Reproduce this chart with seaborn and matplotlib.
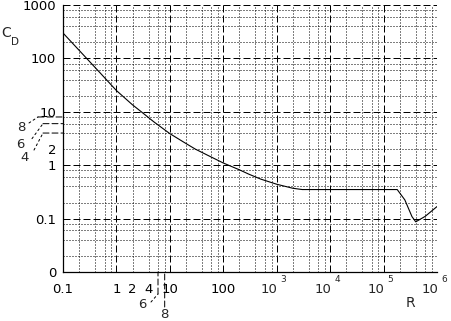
import numpy as np
import pandas as pd
import matplotlib
matplotlib.use("Agg")
import matplotlib.pyplot as plt
import seaborn as sns
from matplotlib.ticker import FixedLocator, FixedFormatter
from matplotlib.transforms import offset_copy

# ---- data ----
reynolds = [0.1, 0.2, 0.5, 1, 2, 3, 5, 10, 20, 30, 50, 100, 200, 300, 500,
            1000, 2000, 3000, 1e4, 1e5, 1.8e5, 2.5e5, 3.4e5, 4e5, 6e5, 1e6]
drag_coef = [299, 142, 53, 25, 13.5, 9.8, 6.5, 3.9, 2.55, 2.0, 1.55, 1.1, 0.82,
             0.68, 0.55, 0.44, 0.37, 0.35, 0.35, 0.35, 0.35, 0.224, 0.109, 0.087,
             0.11, 0.168]

x_major = [0.1, 1, 10, 100, 1e3, 1e4, 1e5, 1e6]
x_major_labels = ["0.1", "1", "10", "100", "", "", "", ""]
x_exponent_ticks = [1e3, 1e4, 1e5, 1e6]
x_exponent_labels = ["3", "4", "5", "6"]
y_major = [0.01, 0.1, 1, 10, 100, 1000]
y_major_labels = ["0", "0.1", "1", "10", "100", "1000"]
minor_subs = [2, 4, 6, 8]
x_decades = range(-1, 6)
y_decades = range(-2, 3)
x_minor_labelled = {2: "2", 4: "4"}
y_minor_labelled = {2: "2"}
y_leader_values = [8, 6, 4]
x_leader_values = [6, 8]

df = pd.DataFrame({"R": reynolds, "CD": drag_coef})

sns.set_style("white")
plt.rcParams["font.family"] = ["DejaVu Sans"]

W, H = 452, 321
fig = plt.figure(figsize=(W / 100, H / 100), dpi=100)
ax = fig.add_axes([63 / W, 1 - 272 / H, 374 / W, 267 / H])

sns.lineplot(data=df, x="R", y="CD", ax=ax, color="black", lw=0.8, sort=False)

ax.set_xscale("log")
ax.set_yscale("log")
ax.set_xlim(0.1, 1e6)
ax.set_ylim(0.01, 1000)

x_minor = [m * 10.0 ** d for d in x_decades for m in minor_subs]
y_minor = [m * 10.0 ** d for d in y_decades for m in minor_subs]


def minor_label(v, table):
    if 1 < v < 10 and abs(v - round(v)) < 1e-9:
        return table.get(int(round(v)), "")
    return ""


ax.xaxis.set_major_locator(FixedLocator(x_major))
ax.xaxis.set_major_formatter(FixedFormatter(x_major_labels))
ax.xaxis.set_minor_locator(FixedLocator(x_minor))
ax.xaxis.set_minor_formatter(FixedFormatter([minor_label(v, x_minor_labelled) for v in x_minor]))
ax.yaxis.set_major_locator(FixedLocator(y_major))
ax.yaxis.set_major_formatter(FixedFormatter(y_major_labels))
ax.yaxis.set_minor_locator(FixedLocator(y_minor))
ax.yaxis.set_minor_formatter(FixedFormatter([minor_label(v, y_minor_labelled) for v in y_minor]))

fs = 9.5
ax.tick_params(axis="both", which="both", length=0, labelsize=fs, colors="black")
ax.tick_params(axis="x", which="both", pad=8)
ax.tick_params(axis="y", which="both", pad=5)

ax.grid(which="major", color="black", lw=0.72, ls=(0, (7, 3)))
ax.grid(which="minor", color="black", lw=0.72, ls=(0, (1, 2)))
ax.set_axisbelow(True)

for s in ["top", "right"]:
    ax.spines[s].set_visible(False)
for s in ["left", "bottom"]:
    ax.spines[s].set_color("black")
    ax.spines[s].set_linewidth(0.9)
ax.set_xlabel("")
ax.set_ylabel("")

xt = ax.get_xaxis_transform()
yt = ax.get_yaxis_transform()

# exponent tick labels 10^n
for v, e in zip(x_exponent_ticks, x_exponent_labels):
    ax.annotate("10", xy=(v, 0), xycoords=xt, xytext=(1, -11), textcoords="offset pixels",
                ha="right", va="top", fontsize=fs, annotation_clip=False)
    ax.annotate(e, xy=(v, 0), xycoords=xt, xytext=(4, -7), textcoords="offset pixels",
                ha="left", va="center", fontsize=6.5, annotation_clip=False)

# axis names
ax.annotate("R", xy=(1, 0), xycoords="axes fraction", xytext=(-27, -31),
            textcoords="offset pixels", ha="center", va="center", fontsize=10)
ax.annotate("C", xy=(0, 1), xycoords="axes fraction", xytext=(-57, -28),
            textcoords="offset pixels", ha="center", va="center", fontsize=10)
ax.annotate("D", xy=(0, 1), xycoords="axes fraction", xytext=(-48, -37),
            textcoords="offset pixels", ha="center", va="center", fontsize=7.5)

ext_style = dict(arrowstyle="-", color="black", lw=0.72, ls=(0, (6, 3)), shrinkA=0, shrinkB=0)
slant_style = dict(arrowstyle="-", color="black", lw=0.72, ls=(0, (2, 3)), shrinkA=0, shrinkB=0)

# leaders for y minor values 8, 6, 4 in the 1-10 decade (pixel offsets)
y_ext = {8: -25, 6: -20, 4: -20}
y_slant_end = {8: (-9, -6), 6: (-11, -15), 4: (-9, -17)}
y_lab_off = {8: (-42, -11), 6: (-43, -21), 4: (-38, -24)}
for v in y_leader_values:
    ax.annotate("", xy=(0, v), xycoords=yt, xytext=(y_ext[v], 0), textcoords="offset pixels",
                arrowprops=ext_style, annotation_clip=False)
    end_tr = offset_copy(yt, fig=fig, x=y_ext[v], y=0, units="dots")
    ax.annotate("", xy=(0, v), xycoords=end_tr, xytext=y_slant_end[v], textcoords="offset pixels",
                arrowprops=slant_style, annotation_clip=False)
    ax.annotate(str(v), xy=(0, v), xycoords=yt, xytext=y_lab_off[v], textcoords="offset pixels",
                ha="center", va="center", fontsize=fs, annotation_clip=False)

# leaders for x minor values 6, 8 in the 1-10 decade
x_ext = {6: -22, 8: -35}
x_slant_end = {6: (-7, -8), 8: None}
x_lab_off = {6: (-16, -33), 8: (0, -42)}
for v in x_leader_values:
    ax.annotate("", xy=(v, 0), xycoords=xt, xytext=(0, x_ext[v]), textcoords="offset pixels",
                arrowprops=ext_style, annotation_clip=False)
    if x_slant_end[v] is not None:
        end_tr = offset_copy(xt, fig=fig, x=0, y=x_ext[v], units="dots")
        ax.annotate("", xy=(v, 0), xycoords=end_tr, xytext=x_slant_end[v], textcoords="offset pixels",
                    arrowprops=slant_style, annotation_clip=False)
    ax.annotate(str(v), xy=(v, 0), xycoords=xt, xytext=x_lab_off[v], textcoords="offset pixels",
                ha="center", va="center", fontsize=fs, annotation_clip=False)

fig.savefig("out.png", dpi=100, facecolor="white")
